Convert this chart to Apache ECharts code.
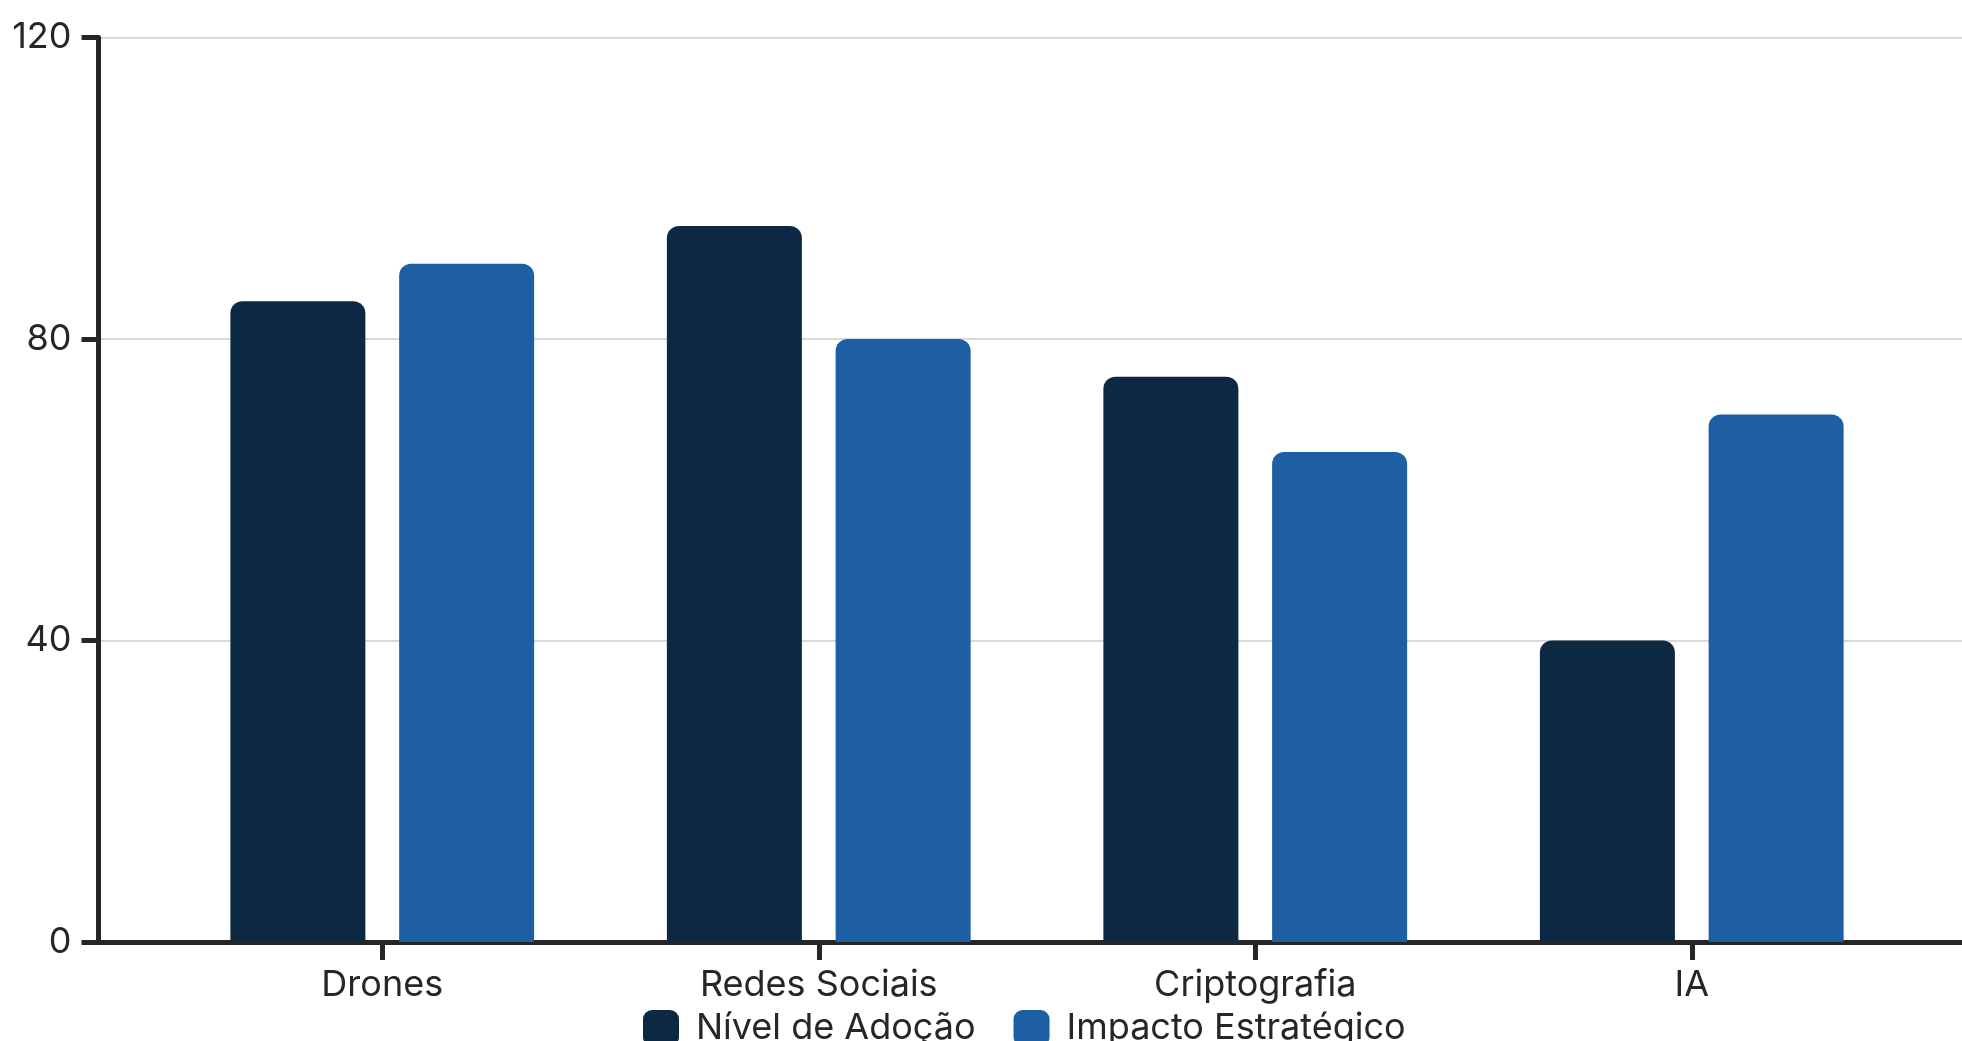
<!DOCTYPE html>
<html><head><meta charset="utf-8">
<script src="https://cdn.jsdelivr.net/npm/echarts@6/dist/echarts.min.js"></script>
<style>html,body{margin:0;padding:0;background:#fff}#c{width:1962px;height:1041px}</style>
</head><body><div id="c"></div>
<script>
const categories = ['Drones', 'Redes Sociais', 'Criptografia', 'IA'];
const adocao = [85, 95, 75, 40];
const impacto = [90, 80, 65, 70];
const yTicks = { min: 0, max: 120, interval: 40 };
const seriesNames = ['Nível de Adoção', 'Impacto Estratégico'];

const font = 'Inter';
const txt = '#262626';
const axisCol = '#262626';
const chart = echarts.init(document.getElementById('c'));
chart.setOption({
  animation: false,
  textStyle: { fontFamily: font },
  grid: [
    { left: 98.5, right: 0, top: 37.5, bottom: 99, containLabel: false },
    { left: 164, right: 52, top: 37.5, bottom: 99, containLabel: false }
  ],
  legend: {
    data: seriesNames,
    left: 638, top: 1005,
    itemWidth: 36, itemHeight: 36, itemGap: 38,
    icon: 'roundRect',
    textStyle: { fontFamily: font, fontSize: 36, color: txt, padding: [0, 0, 4, 12] }
  },
  xAxis: [
    { type: 'value', gridIndex: 0, min: 0, max: 1,
      axisLine: { show: true, onZero: false, lineStyle: { color: axisCol, width: 5 } },
      axisTick: { show: false }, axisLabel: { show: false }, splitLine: { show: false } },
    { type: 'category', gridIndex: 1, data: categories,
      axisLine: { show: false },
      axisTick: { show: true, alignWithLabel: true, length: 18, lineStyle: { color: axisCol, width: 5 } },
      axisLabel: { fontFamily: font, fontSize: 36, color: txt, margin: 25 } }
  ],
  yAxis: [
    { type: 'value', gridIndex: 0, min: yTicks.min, max: yTicks.max, interval: yTicks.interval,
      axisLine: { show: true, lineStyle: { color: axisCol, width: 5 } },
      axisTick: { show: true, inside: false, length: 17, lineStyle: { color: axisCol, width: 5 } },
      axisLabel: { fontFamily: font, fontSize: 36, color: txt, margin: 27 },
      splitLine: { show: true, lineStyle: { color: '#d9d9d9', width: 2 } } },
    { type: 'value', gridIndex: 1, min: yTicks.min, max: yTicks.max, interval: yTicks.interval,
      show: false, splitLine: { show: false } }
  ],
  series: [
    { name: seriesNames[0], type: 'bar', xAxisIndex: 1, yAxisIndex: 1, data: adocao,
      barWidth: 135, barGap: '25%', itemStyle: { color: '#0d2842', borderRadius: [12, 12, 0, 0] } },
    { name: seriesNames[1], type: 'bar', xAxisIndex: 1, yAxisIndex: 1, data: impacto,
      barWidth: 135, barGap: '25%', itemStyle: { color: '#1e5ea2', borderRadius: [12, 12, 0, 0] } }
  ]
});
</script></body></html>
